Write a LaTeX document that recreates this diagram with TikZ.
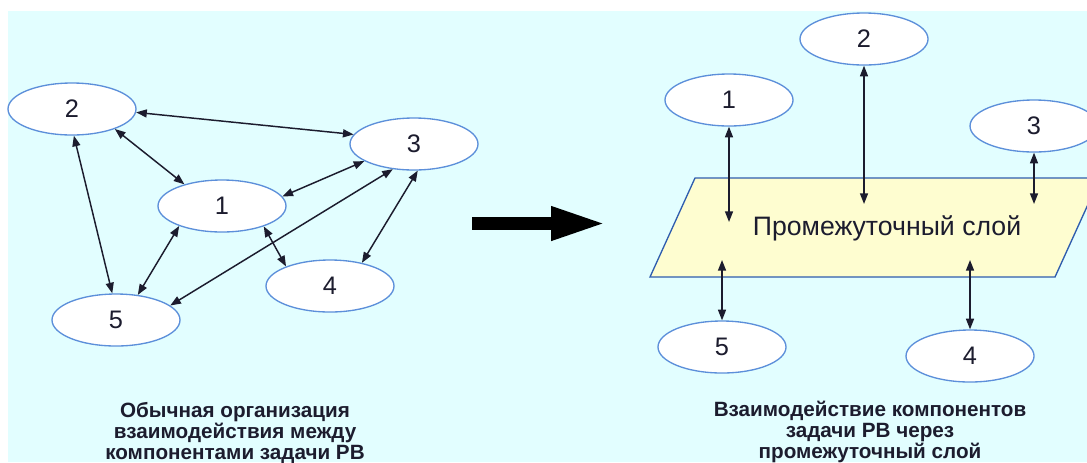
\documentclass[tikz,border=0pt]{standalone}
\usepackage{fontspec}
\setmainfont{Liberation Sans}
\usetikzlibrary{arrows.meta,shapes.geometric}
\definecolor{LayerSky}{HTML}{E2FEFF}
\definecolor{LayerBlue}{HTML}{5C8FDA}
\definecolor{LayerEdge}{HTML}{2F5DAE}
\definecolor{LayerCream}{HTML}{FEFDD0}
\definecolor{LayerInk}{HTML}{1C1C2E}
\tikzset{
  taskpart/.style={
    ellipse,
    draw=LayerBlue,
    fill=white,
    line width=1pt,
    minimum width=96pt,
    minimum height=39pt,
    inner sep=0pt,
    font=\fontsize{19}{22}\selectfont,
    text=LayerInk
  },
  duplex/.style={{Triangle[length=8pt,width=6pt]}-{Triangle[length=8pt,width=6pt]},line width=1.1pt,draw=LayerInk},
  caption/.style={align=center,font=\bfseries\fontsize{15.5}{16}\selectfont,text=LayerInk},
  bigarrow/.style={-{Triangle[length=42pt,width=23pt]},line width=9.75pt,draw=black}
}

\begin{document}
\begin{tikzpicture}[x=0.75pt,y=-0.75pt]
    \useasboundingbox (0,0) rectangle (1087,462);
    \fill[LayerSky] (8,11) rectangle (1087,462);
    % ordinary organisation
    \node[taskpart] (left2) at (72,109) {2};
    \node[taskpart] (left3) at (414,144) {3};
    \node[taskpart] (left1) at (222,206) {1};
    \node[taskpart] (left4) at (330,286) {4};
    \node[taskpart] (left5) at (116,320) {5};
    \draw[duplex] (left2.-3) -- (left3.171);
    \draw[duplex] (left2.-25) -- (left1.150);
    \draw[duplex] (left2.-86) -- (left5.98);
    \draw[duplex] (left1.9) -- (left3.199);
    \draw[duplex] (left1.205) -- (left5.49);
    \draw[duplex] (left1.334) -- (left4.156);
    \draw[duplex] (left3.278) -- (left4.36);
    \draw[duplex] (left3.230) -- (left5.15);
    \node[caption] (leftcap) at (235,433) {Обычная организация\\взаимодействия между\\компонентами задачи РВ};
    % transition
    \coordinate (bigtail) at (472,223.5);
    \coordinate (bighead) at (607,223.5);
    \draw[bigarrow] (bigtail) -- (bighead);
    % intermediate layer
    \draw[LayerEdge,fill=LayerCream,line width=1pt] (650,277) -- (695,178) -- (1100,178) -- (1055,277) -- cycle;
    \node[font=\fontsize{20}{24}\selectfont,text=LayerInk] (layer) at (887,228) {Промежуточный слой};
    \node[taskpart] (right1) at (729,100) {1};
    \node[taskpart] (right2) at (864,39) {2};
    \node[taskpart] (right3) at (1034,126) {3};
    \node[taskpart] (right5) at (722,347) {5};
    \node[taskpart] (right4) at (970,356) {4};
    \coordinate (hub1) at (729,222);
    \coordinate (hub2) at (864,204);
    \coordinate (hub3) at (1034,204);
    \coordinate (hub5) at (722,260);
    \coordinate (hub4) at (970,260);
    \draw[duplex] (right1.south) -- (hub1);
    \draw[duplex] (right2.south) -- (hub2);
    \draw[duplex] (right3.south) -- (hub3);
    \draw[duplex] (right5.north) -- (hub5);
    \draw[duplex] (right4.north) -- (hub4);
    \node[caption] (rightcap) at (870,432) {Взаимодействие компонентов\\задачи РВ через\\промежуточный слой};
  \end{tikzpicture}
\end{document}
